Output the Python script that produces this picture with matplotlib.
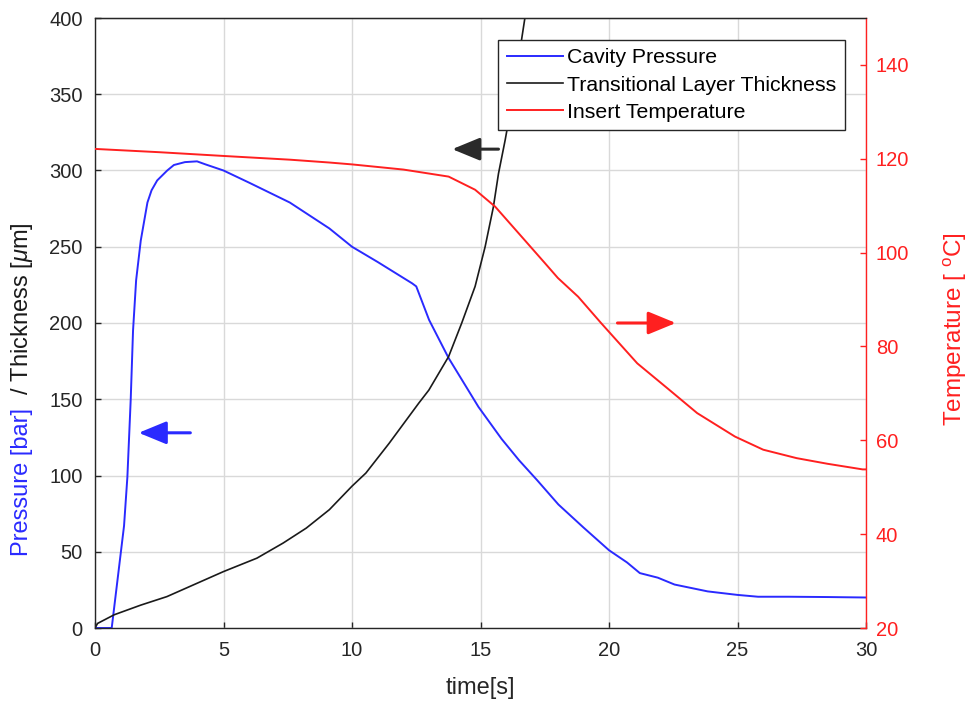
import matplotlib
matplotlib.use("Agg")
import matplotlib.pyplot as plt

plt.rcParams['font.family'] = ['Liberation Sans', 'DejaVu Sans']
plt.rcParams['mathtext.fontset'] = 'custom'
plt.rcParams['mathtext.rm'] = 'Liberation Sans'
plt.rcParams['mathtext.it'] = 'Liberation Sans:italic'

# ---- data ----
time_pressure = [0, 0.65, 1.13, 1.26, 1.39, 1.48, 1.6, 1.78, 2.04, 2.2, 2.42, 2.81, 3.07,
                 3.5, 3.97, 4.3, 5.0, 6.0, 7.58, 9.12, 10.0, 11.0, 12.34, 12.5, 13.0,
                 13.76, 14.92, 15.82, 16.5, 17.2, 18.03, 19.0, 20.0, 20.7, 21.2, 21.9,
                 22.55, 23.84, 25.0, 25.8, 27.0, 28.5, 30.0]
pressure = [0, 0, 67, 99, 150, 195, 228, 254, 279, 287, 293.5, 300, 303.6,
            305.5, 306, 304, 300, 292, 279, 262, 250, 240, 226, 224, 202,
            177, 145, 124, 110, 97, 81, 66, 51, 43, 36, 33,
            28.5, 24, 21.7, 20.5, 20.5, 20.3, 20]

time_thickness = [0, 0.1, 0.75, 1.78, 2.8, 5.0, 6.3, 7.32, 8.22, 9.12, 10.0, 10.54,
                  11.44, 12.6, 12.99, 13.76, 14.27, 14.79, 15.18, 15.5, 15.7, 15.96,
                  16.3, 16.6, 16.8]
thickness = [0, 3, 8.7, 15, 20.6, 37, 45.8, 55.7, 65.5, 77.6, 93, 101.6,
             121, 147.5, 156, 178, 200, 224, 250, 276, 298, 320,
             352, 386, 408]

time_temp = [0, 2.5, 5.0, 7.6, 9.12, 10.0, 12.0, 13.76, 14.79, 15.57, 16.6, 17.5,
             18.01, 18.8, 19.69, 21.1, 22.27, 23.43, 24.9, 26.0, 27.3, 28.5, 29.87, 30.0]
temperature = [122.1, 121.4, 120.6, 119.8, 119.2, 118.8, 117.7, 116.2, 113.4, 109.8,
               103.4, 97.8, 94.6, 90.6, 85.0, 76.4, 71.1, 65.8, 60.8, 58.0, 56.2,
               55.0, 53.8, 53.8]

x_ticks = [0, 5, 10, 15, 20, 25, 30]
left_ticks = [0, 50, 100, 150, 200, 250, 300, 350, 400]
right_ticks = [20, 40, 60, 80, 100, 120, 140]

BLUE = '#2a2aff'
RED = '#ff2020'
BLACK = '#1a1a1a'
AX = '#262626'
FS = 14.5      # tick labels
LFS = 17       # axis labels
LEGFS = 15.3   # legend

fig = plt.figure(figsize=(9.69, 7.06), dpi=100)
ax = fig.add_axes([95/969, 1-628/706, 771/969, 610/706])
ax2 = ax.twinx()

l1, = ax.plot(time_pressure, pressure, color=BLUE, lw=1.4, label='Cavity Pressure')
l2, = ax.plot(time_thickness, thickness, color=BLACK, lw=1.2, label='Transitional Layer Thickness')
l3, = ax2.plot(time_temp, temperature, color=RED, lw=1.4, label='Insert Temperature')

ax.set_xlim(0, 30)
ax.set_ylim(0, 400)
ax2.set_ylim(20, 150)
ax.set_xticks(x_ticks)
ax.set_yticks(left_ticks)
ax2.set_yticks(right_ticks)

ax.grid(True, color='#d9d9d9', lw=1.0)
ax.set_axisbelow(True)

ax.tick_params(axis='both', direction='in', length=4, width=1, colors=AX,
               labelsize=FS, labelcolor=AX)
ax.tick_params(axis='y', pad=9)
ax.tick_params(axis='x', pad=9)
ax2.tick_params(axis='y', direction='in', length=4, width=1, colors=RED,
                labelsize=FS, labelcolor=RED, pad=7)

for s in ['left', 'bottom', 'top']:
    ax.spines[s].set_color(AX)
    ax.spines[s].set_linewidth(1.0)
ax.spines['right'].set_visible(False)
ax2.spines['left'].set_visible(False)
ax2.spines['bottom'].set_visible(False)
ax2.spines['top'].set_color(AX)
ax2.spines['right'].set_color(RED)
ax2.spines['right'].set_linewidth(1.0)

ax.set_xlabel('time[s]', fontsize=LFS, color=AX)
ax.xaxis.set_label_coords(0.5, -0.080)

ax2.set_ylabel('Temperature [ $^{\\mathrm{o}}$C]', fontsize=17.5, color=RED)
ax2.yaxis.set_label_coords(1.098, 0.49)

# arrows
def arrow(axis, tail, head, color):
    axis.annotate('', xy=head, xytext=tail,
                  arrowprops=dict(arrowstyle='-|>,head_length=1.7,head_width=0.7',
                                  lw=2.2, fc=color, ec=color,
                                  mutation_scale=10, shrinkA=0, shrinkB=0))

arrow(ax, (3.71, 128), (1.7, 128), BLUE)
arrow(ax, (15.7, 314), (13.9, 314), '#2a2a2a')
arrow(ax2, (20.33, 85), (22.6, 85), RED)

leg = ax2.legend(handles=[l1, l2, l3], loc='upper right', bbox_to_anchor=(0.9728, 0.964),
                 fontsize=LEGFS, frameon=True, fancybox=False, framealpha=1,
                 edgecolor=AX, handlelength=2.65, handletextpad=0.2,
                 labelspacing=0.38, borderpad=0.4, borderaxespad=0)
leg.get_frame().set_linewidth(1.0)
leg.set_zorder(10)

# two-coloured left y label
fig.canvas.draw()
renderer = fig.canvas.get_renderer()
xlab = 22 / 969
t1 = fig.text(xlab, (706 - 556) / 706, 'Pressure [bar] ', rotation=90, color=BLUE,
              ha='center', va='bottom', fontsize=LFS)
bb = t1.get_window_extent(renderer)
fig.text(xlab, bb.y1 / fig.bbox.height, ' / Thickness [$\\mu$m]', rotation=90,
         color=BLACK, ha='center', va='bottom', fontsize=LFS)

fig.savefig('out.png', dpi=100)
